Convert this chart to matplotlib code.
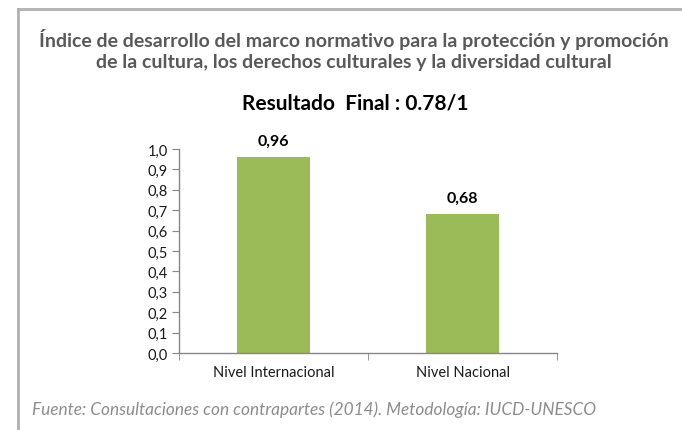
import matplotlib.pyplot as plt
from matplotlib.lines import Line2D

# Data
categories = ['Nivel Internacional', 'Nivel Nacional']
values = [0.96, 0.68]
value_labels = ['0,96', '0,68']
y_ticks = [0.0, 0.1, 0.2, 0.3, 0.4, 0.5, 0.6, 0.7, 0.8, 0.9, 1.0]

title = ('Índice de desarrollo del marco normativo para la protección y promoción\n'
         'de la cultura, los derechos culturales y la diversidad cultural')
subtitle = 'Resultado  Final : 0.78/1'
source = 'Fuente: Consultaciones con contrapartes (2014). Metodología: IUCD-UNESCO'

plt.rcParams['font.family'] = ['Lato', 'DejaVu Sans']

fig = plt.figure(figsize=(6.82, 4.31), dpi=100)
ax = fig.add_axes([179 / 682, 1 - 354 / 431, 378 / 682, 204 / 431])

x = list(range(len(categories)))
bars = ax.bar(x, values, width=0.39, color='#9bbb59')

for xi, v, lab in zip(x, values, value_labels):
    ax.text(xi, v + 0.045, lab, ha='center', va='bottom', fontsize=11.5,
            fontweight='bold', color='black')

ax.set_xlim(-0.5, 1.5)
ax.set_ylim(0, 1.0)
ax.set_yticks(y_ticks)
ax.set_yticklabels([f'{t:.1f}'.replace('.', ',') for t in y_ticks])
ax.set_xticks(x)
ax.set_xticklabels(categories)
ax.set_xticks([-0.5, 0.5, 1.5], minor=True)

ax.tick_params(axis='y', length=5, color='#868686', labelsize=10.5, labelcolor='#1a1a1a', pad=3)
ax.tick_params(axis='x', which='major', length=0, labelsize=10.5, labelcolor='#1a1a1a', pad=9)
ax.tick_params(axis='x', which='minor', length=5, color='#868686')

for side in ['top', 'right']:
    ax.spines[side].set_visible(False)
for side in ['left', 'bottom']:
    ax.spines[side].set_color('#868686')
    ax.spines[side].set_linewidth(1)

# Titles
fig.text(354 / 682, 1 - 50 / 431, title, ha='center', va='center', fontsize=14,
         fontweight='bold', color='#595959', linespacing=1.25)
fig.text(355 / 682, 1 - 103 / 431, subtitle, ha='center', va='center', fontsize=15,
         fontweight='bold', color='black')
fig.text(32 / 682, 1 - 410 / 431, source, ha='left', va='center', fontsize=12.4,
         style='italic', color='#8c8c8c')

# Chart frame (top and left edges)
fig.add_artist(Line2D([18 / 682, 1], [1 - 10 / 431, 1 - 10 / 431], color='#b0b0b0', lw=2,
                      transform=fig.transFigure))
fig.add_artist(Line2D([18 / 682, 18 / 682], [1 - 10 / 431, 0], color='#b0b0b0', lw=2,
                      transform=fig.transFigure))

fig.savefig('out.png', dpi=100)
